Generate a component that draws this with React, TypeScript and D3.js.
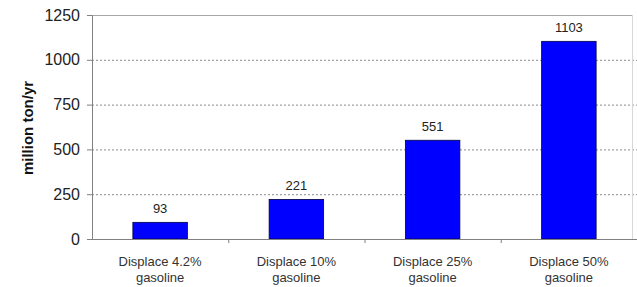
import React, { useRef, useEffect } from "react";
import * as d3 from "d3";

const WIDTH = 637;
const HEIGHT = 287;
const MARGIN = { top: 15, right: 0, bottom: 48, left: 92 };

const categories = ["Displace 4.2%|gasoline", "Displace 10%|gasoline", "Displace 25%|gasoline", "Displace 50%|gasoline"];
const values = [93, 221, 551, 1103];
const yTicks = [0, 250, 500, 750, 1000, 1250];

export default function App() {
  const ref = useRef<SVGSVGElement>(null);

  useEffect(() => {
    const svg = d3.select(ref.current);
    svg.selectAll("*").remove();
    const innerW = WIDTH - MARGIN.left - MARGIN.right;
    const innerH = HEIGHT - MARGIN.top - MARGIN.bottom;
    const font = "Arial, Liberation Sans, sans-serif";

    const x = d3.scaleBand<string>().domain(categories).range([0, innerW]).paddingInner(0.6).paddingOuter(0.3);
    const y = d3.scaleLinear().domain([0, 1250]).range([innerH, 0]);

    const g = svg.append("g").attr("transform", `translate(${MARGIN.left},${MARGIN.top})`);

    // gridlines
    g.selectAll(".grid")
      .data(yTicks.filter((t) => t > 0 && t < 1250))
      .join("line")
      .attr("x1", 0)
      .attr("x2", innerW)
      .attr("y1", (d) => y(d) + 0.5)
      .attr("y2", (d) => y(d) + 0.5)
      .attr("stroke", "#8a8a8a")
      .attr("stroke-dasharray", "2,2");

    // frame top / right
    const frameR = innerW - 5;
    g.append("line").attr("x1", 0).attr("x2", frameR).attr("y1", 0.5).attr("y2", 0.5).attr("stroke", "#a8a8a8");
    g.append("line").attr("x1", frameR + 0.5).attr("x2", frameR + 0.5).attr("y1", 0).attr("y2", innerH).attr("stroke", "#d8d8d8");

    // bars
    g.selectAll(".bar")
      .data(values)
      .join("rect")
      .attr("x", (d, i) => x(categories[i])!)
      .attr("y", (d) => y(d))
      .attr("width", x.bandwidth())
      .attr("height", (d) => innerH - y(d))
      .attr("fill", "#0000ff")
      .attr("stroke", "#000040")
      .attr("stroke-width", 0.8);

    // value labels
    g.selectAll(".val")
      .data(values)
      .join("text")
      .attr("x", (d, i) => x(categories[i])! + x.bandwidth() / 2)
      .attr("y", (d) => y(d) - 9)
      .attr("text-anchor", "middle")
      .attr("font-family", font)
      .attr("font-size", 13)
      .attr("fill", "#222")
      .text((d) => d);

    // y axis
    const yAxis = g.append("g").call(
      d3.axisLeft(y).tickValues(yTicks).tickSize(5).tickPadding(7).tickFormat(d3.format("d"))
    );
    yAxis.select(".domain").attr("stroke", "#808080");
    yAxis.selectAll(".tick line").attr("stroke", "#808080");
    yAxis.selectAll(".tick text")
      .attr("font-family", font)
      .attr("font-size", 16)
      .attr("fill", "#222");

    // x axis
    const xAxis = g.append("g").attr("transform", `translate(0,${innerH})`);
    xAxis.append("line").attr("x1", 0).attr("x2", innerW).attr("y1", 0.5).attr("y2", 0.5).attr("stroke", "#808080");
    const step = x.step();
    const start = x(categories[0])! - x.paddingOuter() * step;
    xAxis.selectAll(".xt")
      .data(d3.range(1, categories.length))
      .join("line")
      .attr("x1", (d) => start + d * step + 0.5)
      .attr("x2", (d) => start + d * step + 0.5)
      .attr("y1", 0)
      .attr("y2", 4)
      .attr("stroke", "#808080");

    const labels = xAxis.selectAll(".xl")
      .data(categories)
      .join("text")
      .attr("x", (d) => x(d)! + x.bandwidth() / 2)
      .attr("y", 27)
      .attr("text-anchor", "middle")
      .attr("font-family", font)
      .attr("font-size", 13)
      .attr("fill", "#333");
    labels.each(function (d) {
      const parts = d.split("|");
      d3.select(this).selectAll("tspan")
        .data(parts)
        .join("tspan")
        .attr("x", x(d)! + x.bandwidth() / 2)
        .attr("dy", (p, i) => (i === 0 ? 0 : 16))
        .text((p) => p);
    });

    // y axis title
    svg.append("text")
      .attr("transform", `translate(33,${MARGIN.top + innerH / 2 + 1}) rotate(-90)`)
      .attr("text-anchor", "middle")
      .attr("font-family", font)
      .attr("font-size", 15)
      .attr("font-weight", "bold")
      .attr("fill", "#111")
      .text("million ton/yr");
  }, []);

  return (
    <svg
      ref={ref}
      width={WIDTH}
      height={HEIGHT}
      style={{ position: "absolute", left: 0, top: 0, background: "#fff" }}
    />
  );
}
